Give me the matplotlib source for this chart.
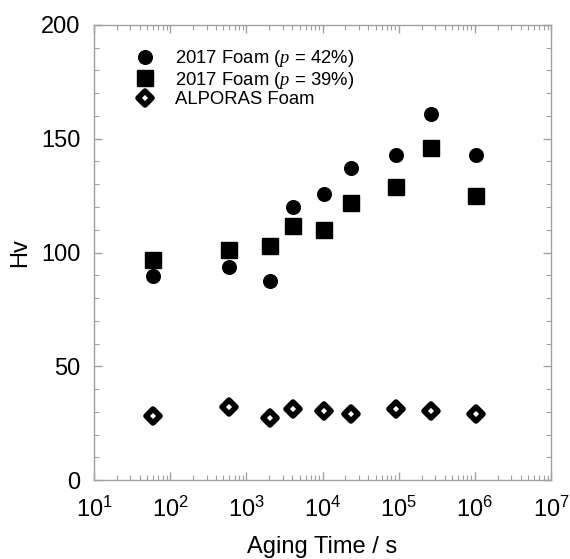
import numpy as np
import matplotlib
matplotlib.use("Agg")
import matplotlib.pyplot as plt
from matplotlib.markers import MarkerStyle
from matplotlib.ticker import MultipleLocator, LogLocator

plt.rcParams['font.family'] = ['Liberation Sans', 'DejaVu Sans']
plt.rcParams['mathtext.fontset'] = 'custom'
plt.rcParams['mathtext.rm'] = 'Liberation Sans'
plt.rcParams['mathtext.it'] = 'Liberation Serif:italic'

# aging time (s) and hardness values
time_s = [60, 590, 2050, 4150, 10500, 23500, 93000, 262000, 1020000]
hv_42 = [89.8, 93.5, 87.6, 120.0, 125.9, 137.0, 143.0, 161.0, 143.0]
hv_39 = [96.8, 101.0, 102.9, 111.8, 110.0, 121.9, 128.9, 146.1, 125.0]
hv_alporas = [28.3, 32.2, 27.1, 31.2, 30.3, 29.0, 31.3, 30.2, 29.0]

labels = ['2017 Foam ($p$ = 42%)', '2017 Foam ($p$ = 39%)', 'ALPORAS Foam']

fig = plt.figure(figsize=(5.70, 5.59), dpi=100)
ax = fig.add_axes([0.165, 0.1413, 0.8017, 0.814])

ax.plot(time_s, hv_42, 'o', color='black', markersize=9.8, linestyle='none', label=labels[0])
ax.plot(time_s, hv_39, 's', color='black', markersize=12.2, linestyle='none', label=labels[1])
ax.plot(time_s, hv_alporas, marker=MarkerStyle('D', joinstyle='round'),
        markerfacecolor='white', markeredgecolor='black',
        markersize=7, markeredgewidth=4.0, linestyle='none', label=labels[2])

ax.set_xscale('log')
ax.set_xlim(10, 1e7)
ax.set_ylim(0, 200)
ax.yaxis.set_major_locator(MultipleLocator(50))
ax.yaxis.set_minor_locator(MultipleLocator(10))
ax.xaxis.set_major_locator(LogLocator(base=10, numticks=10))
ax.xaxis.set_minor_locator(LogLocator(base=10, subs=np.arange(2, 10), numticks=20))

grey = '#a0a0a0'
for s in ax.spines.values():
    s.set_color(grey)
    s.set_linewidth(1.0)
ax.tick_params(which='both', direction='in', top=True, right=True, color=grey,
               labelsize=17, labelcolor='black')
ax.tick_params(which='major', length=6, width=1.0)
ax.tick_params(axis='x', which='major', pad=12)
ax.tick_params(axis='y', which='major', pad=10)
ax.tick_params(which='minor', length=3.5, width=0.8)

ax.set_xlabel('Aging Time / s', fontsize=17, labelpad=10)
ax.set_ylabel('Hv', fontsize=17, labelpad=7)

leg = ax.legend(loc='upper left', bbox_to_anchor=(0.07, 0.965), frameon=False,
                fontsize=13.3, handletextpad=1.05, labelspacing=0.02,
                borderaxespad=0, handlelength=1.2)

fig.savefig('out.png', dpi=100)
